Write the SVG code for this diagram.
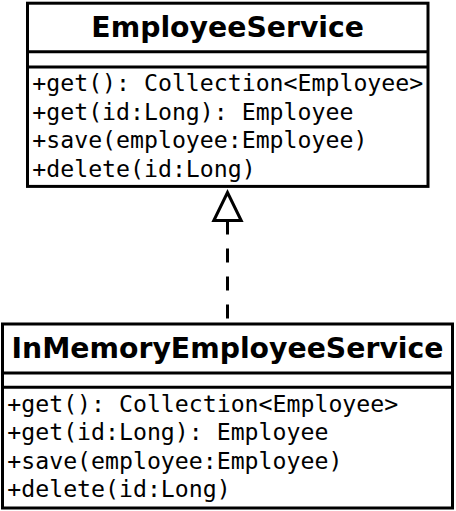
<svg xmlns="http://www.w3.org/2000/svg" width="456" height="511" viewBox="0 0 456 511">
<style>
.box{fill:#fff;stroke:#000;stroke-width:3}
.sep{stroke:#000;stroke-width:3}
.title{font-family:"DejaVu Sans",sans-serif;font-weight:bold;font-size:28.3px;text-anchor:middle;fill:#000}
.op{font-family:"DejaVu Sans Mono",monospace;font-size:23.2px;fill:#000}
.conn{stroke:#000;stroke-width:3;fill:none}
</style>
<rect width="456" height="511" fill="#fff"/>
<g id="connectors">
<line class="conn" x1="227.5" y1="220.5" x2="227.5" y2="322.7" stroke-dasharray="14 14"/>
<polygon class="conn" points="227.5,192.5 213.8,220.5 241.2,220.5" style="fill:#fff"/>
</g>
<g id="EmployeeService">
<rect class="box" x="27.5" y="3.2" width="400.5" height="183.2"/>
<line class="sep" x1="27.5" y1="51.7" x2="428" y2="51.7"/>
<line class="sep" x1="27.5" y1="67" x2="428" y2="67"/>
<text class="title" x="227.7" y="36.8">EmployeeService</text>
<text class="op" x="32.3" y="91.3">+get(): Collection&lt;Employee&gt;</text>
<text class="op" x="32.3" y="119.7">+get(id:Long): Employee</text>
<text class="op" x="32.3" y="148.1">+save(employee:Employee)</text>
<text class="op" x="32.3" y="176.5">+delete(id:Long)</text>
</g>
<g id="InMemoryEmployeeService">
<rect class="box" x="2.5" y="324" width="450" height="184"/>
<line class="sep" x1="2.5" y1="373" x2="452.5" y2="373"/>
<line class="sep" x1="2.5" y1="387.3" x2="452.5" y2="387.3"/>
<text class="title" x="227.5" y="358.4">InMemoryEmployeeService</text>
<text class="op" x="7.3" y="411.7">+get(): Collection&lt;Employee&gt;</text>
<text class="op" x="7.3" y="440.1">+get(id:Long): Employee</text>
<text class="op" x="7.3" y="468.5">+save(employee:Employee)</text>
<text class="op" x="7.3" y="496.9">+delete(id:Long)</text>
</g>
</svg>
